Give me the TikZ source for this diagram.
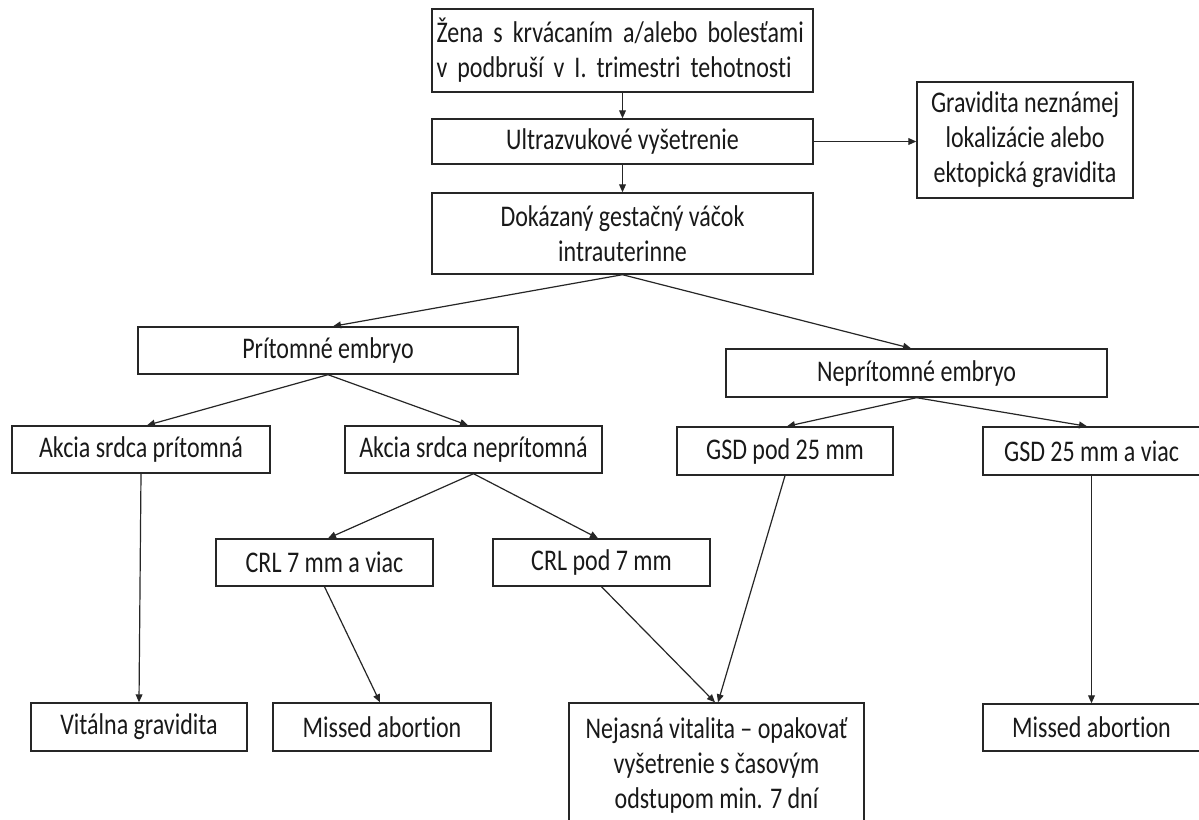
\documentclass[tikz,border=0pt]{standalone}
\usepackage{fontspec}
\setmainfont{Carlito}[FakeStretch=0.8,Ligatures={NoCommon}]
\usetikzlibrary{arrows.meta}
\tikzset{
  box/.style={draw=black!85, line width=0.7pt, inner sep=0pt, align=center,
    font=\fontsize{15pt}{17.5pt}\selectfont, text=black!90},
  conn/.style={draw=black!85, line width=0.6pt, -{Triangle[length=4pt,width=3.4pt]}}
}
% name, x1, y1, x2, y2 (pixels), text
\newcommand{\flowbox}[7][]{\node[box,minimum width={(#5-#3)*0.5pt},minimum height={(#6-#4)*0.5pt},#1] (#2) at ({(#3+#5)/2},{(#4+#6)/2}) {#7};}
\begin{document}
\begin{tikzpicture}[x=0.5pt,y=-0.5pt]
\fill[white] (0,0) rectangle (1199,819);
\useasboundingbox (0,0) rectangle (1199,819);
\flowbox[text width=186pt,align=left]{top}{432}{9}{813}{92}{Žena s krvácaním a/alebo bolesťami\\v podbruší v I. trimestri tehotnosti}
\flowbox{ultra}{432}{119}{813}{164}{Ultrazvukové vyšetrenie}
\flowbox{grav}{917}{82}{1133}{198}{Gravidita neznámej\\lokalizácie alebo\\ektopická gravidita}
\flowbox{dok}{432}{193}{813}{274}{Dokázaný gestačný váčok\\intrauterinne}
\flowbox{prit}{138}{327}{518}{374}{Prítomné embryo}
\flowbox{nepr}{726}{349}{1107}{397}{Neprítomné embryo}
\flowbox{akprit}{12}{426}{270}{473}{Akcia srdca prítomná}
\flowbox{aknepr}{345}{426}{602}{473}{Akcia srdca neprítomná}
\flowbox{gsdpod}{677}{427}{893}{475}{GSD pod 25 mm}
\flowbox{gsdviac}{983}{427}{1200}{475}{GSD 25 mm a viac}
\flowbox{crlviac}{216}{539}{433}{586}{CRL 7 mm a viac}
\flowbox{crlpod}{493}{539}{710}{586}{CRL pod 7 mm}
\flowbox{vital}{31}{703}{247}{751}{Vitálna gravidita}
\flowbox{missa}{273}{703}{491}{751}{Missed abortion}
\flowbox{nejas}{569}{703}{864}{827}{Nejasná vitalita – opakovať\\vyšetrenie s časovým\\odstupom min. 7 dní}
\flowbox{missb}{983}{704}{1200}{751}{Missed abortion}
% connectors
\draw[conn] (top.south) -- (ultra.north);
\draw[conn] (ultra.south) -- (dok.north);
\draw[conn] (ultra.east) -- (ultra.east -| grav.west);
\draw[conn] (dok.south) -- ([xshift=2.5pt]prit.north);
\draw[conn] (dok.south) -- ([xshift=-2.75pt]nepr.north);
\draw[conn] (prit.south) -- ([xshift=3pt]akprit.north);
\draw[conn] (prit.south) -- ([xshift=-2.75pt]aknepr.north);
\draw[conn] (nepr.south) -- ([xshift=1pt]gsdpod.north);
\draw[conn] (nepr.south) -- ([xshift=-2.25pt]gsdviac.north);
\draw[conn] (aknepr.south) -- ([xshift=1.75pt]crlviac.north);
\draw[conn] (aknepr.south) -- ([xshift=-1.75pt]crlpod.north);
\draw[conn] (akprit.south) -- (vital.north);
\draw[conn] (crlviac.south) -- ([xshift=-1pt]missa.north);
\draw[conn] (crlpod.south) -- ([xshift=-0.75pt]nejas.north);
\draw[conn] (gsdpod.south) -- ([xshift=0.75pt]nejas.north);
\draw[conn] (gsdviac.south) -- (missb.north);
\end{tikzpicture}
\end{document}
